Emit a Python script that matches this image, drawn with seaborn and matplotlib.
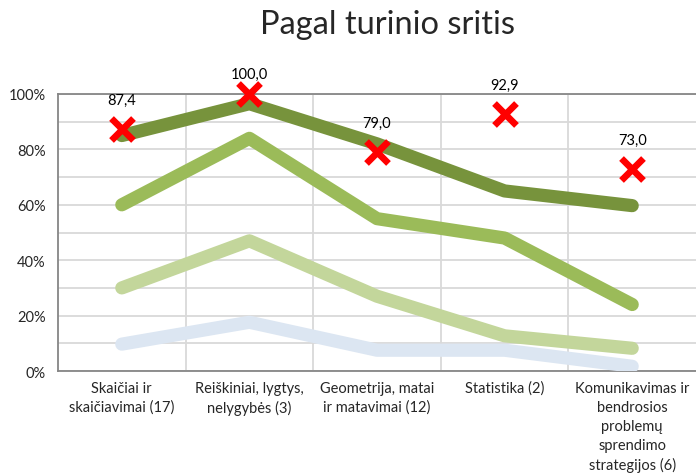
import matplotlib
matplotlib.use("Agg")
import matplotlib.pyplot as plt
import seaborn as sns
import pandas as pd
import numpy as np
from matplotlib.ticker import MultipleLocator, FixedLocator, PercentFormatter

categories = [
    "Skaičiai ir\nskaičiavimai (17)",
    "Reiškiniai, lygtys,\nnelygybės (3)",
    "Geometrija, matai\nir matavimai (12)",
    "Statistika (2)",
    "Komunikavimas ir\nbendrosios\nproblemų\nsprendimo\nstrategijos (6)",
]
series_names = ["s4", "s3", "s2", "s1"]
s1_dark = [0.85, 0.965, 0.82, 0.65, 0.597]
s2_mid = [0.60, 0.84, 0.55, 0.48, 0.24]
s3_light = [0.30, 0.47, 0.27, 0.127, 0.082]
s4_blue = [0.097, 0.176, 0.075, 0.075, 0.017]
marker_values = [87.4, 100.0, 79.0, 92.9, 73.0]
marker_labels = ["87,4", "100,0", "79,0", "92,9", "73,0"]
title = "Pagal turinio sritis"

colors = {"s1": "#77933C", "s2": "#9BBB59", "s3": "#C3D69B", "s4": "#DCE6F2"}

sns.set_style("white")
plt.rcParams["font.family"] = ["Lato", "DejaVu Sans"]

pos = list(range(len(categories)))
df = pd.DataFrame({
    "pos": pos * 4,
    "value": s4_blue + s3_light + s2_mid + s1_dark,
    "series": sum([[n] * len(pos) for n in series_names], []),
})
mk = pd.DataFrame({"pos": pos, "value": [v / 100 for v in marker_values]})

fig = plt.figure(figsize=(6.96, 4.77), dpi=100)
ax = fig.add_axes([58 / 696, 1 - 372 / 477, 1 - 58 / 696, (372 - 95) / 477])

sns.lineplot(data=df, x="pos", y="value", hue="series", hue_order=series_names,
             palette=colors, linewidth=9.5, legend=False, ax=ax,
             solid_capstyle="round", solid_joinstyle="round", zorder=3)
sns.scatterplot(data=mk, x="pos", y="value", marker="x", s=250, color="#FF0000",
                linewidth=4.8, legend=False, ax=ax, zorder=5, clip_on=False)

for x, v, lab in zip(pos, marker_values, marker_labels):
    off = 21 if v < 100 else 14.5
    ax.annotate(lab, (x, v / 100), xytext=(0, off), textcoords="offset points",
                ha="center", va="center", fontsize=10.5, color="#000000",
                annotation_clip=False)

ax.set_xlim(-0.5, len(categories) - 0.5)
ax.set_ylim(0, 1.0)
ax.yaxis.set_major_locator(MultipleLocator(0.2))
ax.yaxis.set_minor_locator(MultipleLocator(0.1))
ax.yaxis.set_major_formatter(PercentFormatter(1.0, decimals=0))
ax.grid(which="both", axis="y", color="#D9D9D9", linewidth=1.3, zorder=0)

bounds = [i + 0.5 for i in range(len(categories) - 1)]
for b in bounds:
    ax.axvline(b, color="#D9D9D9", linewidth=1.3, zorder=0)

ax.xaxis.set_major_locator(FixedLocator([-0.5] + bounds + [len(categories) - 0.5]))
ax.xaxis.set_major_formatter(plt.NullFormatter())
ax.xaxis.set_minor_locator(FixedLocator(pos))
ax.set_xticklabels(categories, minor=True, fontsize=10.5, linespacing=1.45)
ax.tick_params(axis="x", which="minor", length=0, pad=7)
ax.tick_params(axis="x", which="major", length=5, width=1.3, color="#868686", direction="out")
ax.tick_params(axis="y", which="major", length=5, width=1.3, color="#868686",
               direction="out", labelsize=10.5, pad=4)
ax.tick_params(axis="y", which="minor", length=0)
ax.set_xlabel("")
ax.set_ylabel("")

for side in ["left", "bottom", "top"]:
    ax.spines[side].set_visible(True)
    ax.spines[side].set_color("#868686")
    ax.spines[side].set_linewidth(1.3)
ax.spines["right"].set_visible(False)

fig.text(388 / 696, 1 - 25 / 477, title, ha="center", va="center", fontsize=23.5)

fig.savefig("out.png", dpi=100)
